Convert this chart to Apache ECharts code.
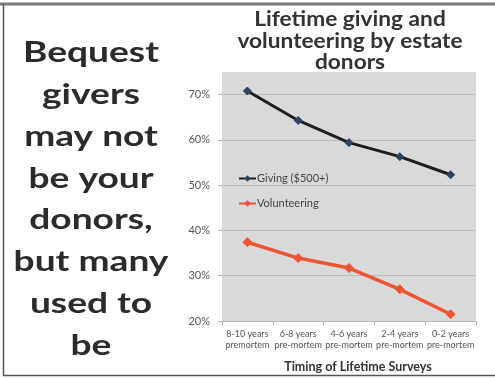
<!DOCTYPE html>
<html>
<head>
<meta charset="utf-8">
<script src="https://cdn.jsdelivr.net/npm/echarts@6/dist/echarts.min.js"></script>
<style>
  html, body { margin: 0; padding: 0; background: #ffffff; }
  #chart { width: 495px; height: 378px; }
</style>
</head>
<body>
<div id="chart"></div>
<script>
// Survey timing buckets (years before death)
const categories = [
  '8-10 years\npremortem',
  '6-8 years\npre-mortem',
  '4-6 years\npre-mortem',
  '2-4 years\npre-mortem',
  '0-2 years\npre-mortem'
];
// Share of estate donors (%) at each survey point
const giving = [70.8, 64.3, 59.4, 56.3, 52.3];
const volunteering = [37.4, 33.9, 31.7, 27.0, 21.5];
const seriesNames = ['Giving ($500+)', 'Volunteering'];
const titleText = 'Lifetime giving and\nvolunteering by estate\ndonors';
const sideText = 'Bequest\ngivers\nmay not\nbe your\ndonors,\nbut many\nused to\nbe';
const axisTitle = 'Timing of Lifetime Surveys';

const chart = echarts.init(document.getElementById('chart'), null, { renderer: 'canvas' });

chart.setOption({
  animation: false,
  backgroundColor: '#ffffff',
  grid: {
    left: 222,
    right: 19,
    top: 72,
    bottom: 49,
    show: true,
    backgroundColor: '#d9d9d9',
    borderWidth: 0
  },
  legend: {
    orient: 'vertical',
    left: 233,
    top: 168,
    itemGap: 14,
    itemWidth: 17,
    itemHeight: 8,
    textStyle: { fontFamily: 'Lato', fontSize: 11, color: '#444444', padding: [0, 0, 0, -4] },
    data: seriesNames
  },
  xAxis: {
    type: 'category',
    data: categories,
    boundaryGap: true,
    axisLine: { show: true, lineStyle: { color: '#b5b5b5', width: 1 } },
    axisTick: { show: true, length: 4, lineStyle: { color: '#b5b5b5' } },
    axisLabel: {
      fontFamily: 'Lato',
      fontSize: 9,
      lineHeight: 11,
      color: '#555555',
      margin: 8,
      interval: 0
    },
    name: axisTitle,
    nameLocation: 'middle',
    nameGap: 39,
    nameTextStyle: {
      fontFamily: 'Lato',
      fontSize: 12.5,
      fontWeight: 'bold',
      color: '#333333',
      padding: [0, 0, 0, 18]
    }
  },
  yAxis: {
    type: 'value',
    min: 20,
    max: 75,
    interval: 10,
    axisLine: { show: false },
    axisTick: { show: true, length: 4, lineStyle: { color: '#b5b5b5' } },
    axisLabel: {
      fontFamily: 'Lato',
      fontSize: 11,
      color: '#555555',
      margin: 12,
      showMaxLabel: false,
      formatter: v => (v === 75 ? '' : v + '%')
    },
    splitLine: { show: true, showMaxLine: false, lineStyle: { color: '#bcbcbc', width: 1 } }
  },
  series: [
    {
      name: seriesNames[0],
      type: 'line',
      data: giving,
      symbol: 'diamond',
      symbolSize: 8,
      lineStyle: { color: '#1e1e1e', width: 3 },
      itemStyle: { color: '#2c4462', borderColor: '#2c4462' }
    },
    {
      name: seriesNames[1],
      type: 'line',
      data: volunteering,
      symbol: 'diamond',
      symbolSize: 9,
      lineStyle: { color: '#ee5535', width: 3.5 },
      itemStyle: { color: '#ee5535', borderColor: '#ee5535' }
    }
  ],
  graphic: [
    // chart heading, centred over the plot
    {
      type: 'text',
      x: 350,
      y: 9,
      scaleX: 1.08,
      style: {
        text: titleText,
        fontFamily: 'Lato',
        fontSize: 21,
        fontWeight: 'bold',
        lineHeight: 21.3,
        fill: '#333333',
        align: 'center',
        verticalAlign: 'top'
      }
    },
    // side message
    {
      type: 'text',
      x: 91,
      y: 32,
      scaleX: 1.28,
      style: {
        text: sideText,
        fontFamily: 'Lato',
        fontSize: 29,
        fontWeight: 'bold',
        lineHeight: 41.8,
        fill: '#2b2b2b',
        align: 'center',
        verticalAlign: 'top'
      }
    },
    // frame around the slide
    { type: 'line', shape: { x1: 0, y1: 4, x2: 495, y2: 4 }, style: { stroke: '#7a7a7a', lineWidth: 3 } },
    { type: 'line', shape: { x1: 3.5, y1: 4, x2: 3.5, y2: 376 }, style: { stroke: '#555555', lineWidth: 1.5 } },
    { type: 'line', shape: { x1: 3, y1: 375.5, x2: 495, y2: 375.5 }, style: { stroke: '#555555', lineWidth: 1.5 } }
  ]
});
</script>
</body>
</html>
